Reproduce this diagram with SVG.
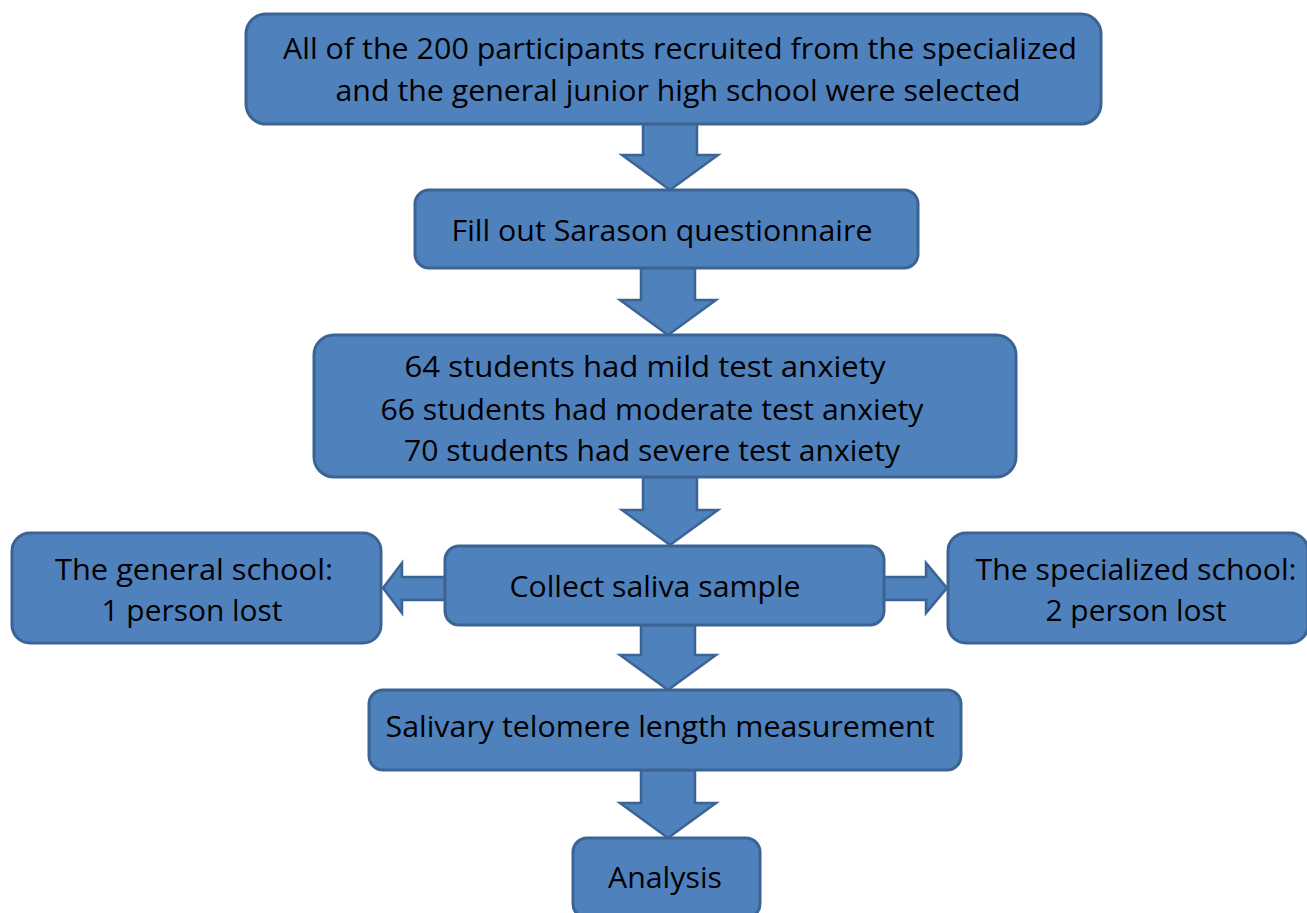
<svg xmlns="http://www.w3.org/2000/svg" width="1307" height="913" viewBox="0 0 1307 913">
<style>
.box{fill:#4F81BD;stroke:#3B6495;stroke-width:3}
.arr{fill:#4F81BD;stroke:#3B6495;stroke-width:2.5;stroke-linejoin:miter}
text{font-family:"Open Sans","Noto Sans","Liberation Sans",sans-serif;font-size:29px;fill:#000;text-anchor:middle}
</style>
<rect width="1307" height="913" fill="#fff"/>
<g id="connectors">
<polygon class="arr" points="643,124 697,124 697,155 718,155 670,190 622,155 643,155"/>
<polygon class="arr" points="641,268 695,268 695,300 716,300 668,335 620,300 641,300"/>
<polygon class="arr" points="643,477 697,477 697,510 718,510 670,545 622,510 643,510"/>
<polygon class="arr" points="641,625 695,625 695,655 716,655 668,690 620,655 641,655"/>
<polygon class="arr" points="641,770 695,770 695,803 716,803 668,838 620,803 641,803"/>
<polygon class="arr" points="445,577 402,577 402,563 383,588 402,613 402,600 445,600"/>
<polygon class="arr" points="884,577 926,577 926,563 947,588 926,613 926,600 884,600"/>
</g>
<g id="n1"><rect class="box" x="246" y="14" width="855" height="110" rx="20"/>
<text x="680" y="59" textLength="794" lengthAdjust="spacingAndGlyphs">All of the 200 participants recruited from the specialized</text>
<text x="678" y="101" textLength="685" lengthAdjust="spacingAndGlyphs">and the general junior high school were selected</text></g>
<g id="n2"><rect class="box" x="415" y="190" width="503" height="78" rx="14"/>
<text x="662" y="241" textLength="421" lengthAdjust="spacingAndGlyphs">Fill out Sarason questionnaire</text></g>
<g id="n3"><rect class="box" x="314" y="335" width="702" height="142" rx="20"/>
<text x="645" y="377" textLength="481" lengthAdjust="spacingAndGlyphs">64 students had mild test anxiety</text>
<text x="652" y="420" textLength="543" lengthAdjust="spacingAndGlyphs">66 students had moderate test anxiety</text>
<text x="652" y="461" textLength="496" lengthAdjust="spacingAndGlyphs">70 students had severe test anxiety</text></g>
<g id="n4"><rect class="box" x="445" y="546" width="439" height="79" rx="14"/>
<text x="655" y="597" textLength="291" lengthAdjust="spacingAndGlyphs">Collect saliva sample</text></g>
<g id="n5"><rect class="box" x="12" y="533" width="369" height="110" rx="18"/>
<text x="194" y="580" textLength="278" lengthAdjust="spacingAndGlyphs">The general school:</text>
<text x="192" y="621" textLength="181" lengthAdjust="spacingAndGlyphs">1 person lost</text></g>
<g id="n6"><rect class="box" x="948" y="533" width="360" height="110" rx="18"/>
<text x="1136" y="580" textLength="321" lengthAdjust="spacingAndGlyphs">The specialized school:</text>
<text x="1136" y="621" textLength="181" lengthAdjust="spacingAndGlyphs">2 person lost</text></g>
<g id="n7"><rect class="box" x="369" y="690" width="592" height="80" rx="14"/>
<text x="660" y="737" textLength="549" lengthAdjust="spacingAndGlyphs">Salivary telomere length measurement</text></g>
<g id="n8"><rect class="box" x="573" y="838" width="187" height="80" rx="14"/>
<text x="665" y="888" textLength="114" lengthAdjust="spacingAndGlyphs">Analysis</text></g>
</svg>
